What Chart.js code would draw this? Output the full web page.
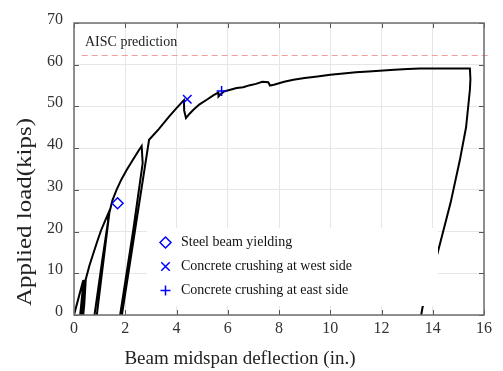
<!DOCTYPE html>
<html>
<head>
<meta charset="utf-8">
<script src="https://cdn.jsdelivr.net/npm/chart.js@4/dist/chart.umd.min.js"></script>
<style>
  html, body { margin: 0; padding: 0; background: #fff; }
  #wrap { width: 503px; height: 371px; }
</style>
</head>
<body>
<div id="wrap"><canvas id="loadChart" width="503" height="371"></canvas></div>
<script>
// load-deflection record (in., kips)
var deflection = [
    0, 0.36, 0.33, 0.24, 0.30, 0.40, 0.37, 0.30, 0.35, 0.43, 0.40, 0.36, 0.40, 0.46,
    0.60, 0.75, 0.90, 1.05, 1.20, 1.34,
    1.33, 1.10, 0.80, 0.89, 1.38,
    1.50, 1.66, 1.85, 2.06, 2.30, 2.50, 2.64,
    2.68, 2.31, 1.80, 1.87, 2.40, 2.93,
    3.30, 3.70, 4.00, 4.29, 4.30, 4.37, 4.50, 4.66, 4.90, 5.18, 5.45, 5.63, 5.64, 5.70, 5.85,
    6.10, 6.35, 6.60, 6.87, 7.10, 7.35, 7.58, 7.65, 7.80, 8.20, 8.56, 9.00, 9.50, 10.00,
    10.51, 11.00, 11.50, 12.07, 12.50, 13.03, 13.50, 14.50, 15.45,
    15.47, 15.45, 15.30, 15.06, 14.70, 14.22, 13.85, 13.60, 13.55
];
var load = [
    0, 8.3, 5.5, 0, 3.0, 8.4, 5.5, 0, 3.0, 8.4, 5.0, 0, 2.5, 8.6,
    11.8, 14.7, 17.5, 20.2, 22.4, 24.4,
    22.5, 13.0, 0, 0, 24.5,
    27.5, 30.0, 32.5, 34.8, 37.2, 39.2, 40.5,
    36.4, 20.3, 0, 0, 21.0, 42.0,
    44.5, 47.5, 49.6, 51.5, 49.0, 47.2, 48.2, 49.2, 50.5, 51.6, 52.7, 53.3, 52.4, 52.8, 53.6,
    54.0, 54.4, 54.6, 55.1, 55.4, 55.9, 55.8, 55.0, 55.2, 55.9, 56.4, 56.8, 57.2, 57.6,
    57.9, 58.2, 58.4, 58.6, 58.8, 59.0, 59.1, 59.1, 59.1,
    56.5, 54.0, 45.0, 37.2, 27.0, 15.6, 7.0, 1.8, 0
];

// events
var yieldPoint = [1.70, 26.8];
var westCrush = [4.42, 51.7];
var eastCrush = [5.76, 53.7];

var aiscLoad = 62.2;
var aiscSpan = [0.3, 16.25];

var xTicks = [0, 2, 4, 6, 8, 10, 12, 14, 16];
var yTicks = [0, 10, 20, 30, 40, 50, 60, 70];

var legendLabels = ['Steel beam yielding', 'Concrete crushing at west side', 'Concrete crushing at east side'];

var serif = '"Liberation Serif", "Times New Roman", serif';
var blue = '#0000ff';

var curve = deflection.map(function (d, i) { return { x: d, y: load[i] }; });

// legend, frame, inward ticks and axis titles
var decorPlugin = {
    id: 'decor',
    afterDatasetsDraw: function (chart) {
        var ctx = chart.ctx;
        ctx.save();
        ctx.fillStyle = '#fff';
        ctx.fillRect(147, 228, 291, 78);
        var styles = ['rectRot', 'crossRot', 'cross'];
        var radii = [5.5, 6, 5];
        ctx.font = '14px ' + serif;
        ctx.textBaseline = 'middle';
        for (var i = 0; i < legendLabels.length; i++) {
            var ly = 242.5 + i * 24;
            ctx.strokeStyle = blue;
            ctx.fillStyle = 'rgba(0,0,0,0)';
            ctx.lineWidth = 1.5;
            Chart.helpers.drawPoint(ctx, { pointStyle: styles[i], radius: radii[i], borderWidth: 1.5 }, 165.5, ly);
            ctx.fillStyle = '#111';
            ctx.fillText(legendLabels[i], 181, ly);
        }
        ctx.restore();
    },
    afterDraw: function (chart) {
        var ctx = chart.ctx;
        var a = chart.chartArea;
        var sx = chart.scales.x, sy = chart.scales.y;
        ctx.save();
        ctx.strokeStyle = '#555';
        ctx.lineWidth = 1;
        ctx.beginPath();
        xTicks.forEach(function (t) {
            var px = Math.round(sx.getPixelForValue(t)) + 0.5;
            ctx.moveTo(px, a.bottom); ctx.lineTo(px, a.bottom - 5);
            ctx.moveTo(px, a.top); ctx.lineTo(px, a.top + 5);
        });
        yTicks.forEach(function (t) {
            var py = Math.round(sy.getPixelForValue(t)) + 0.5;
            ctx.moveTo(a.left, py); ctx.lineTo(a.left + 5, py);
            ctx.moveTo(a.right, py); ctx.lineTo(a.right - 5, py);
        });
        ctx.stroke();
        ctx.strokeStyle = '#6e6e6e';
        ctx.lineWidth = 1.5;
        ctx.strokeRect(a.left, a.top, a.right - a.left, a.bottom - a.top);

        ctx.fillStyle = '#222';
        ctx.font = '14px ' + serif;
        ctx.textBaseline = 'middle';
        ctx.textAlign = 'left';
        ctx.fillText('AISC prediction', 85, 42);

        ctx.font = '19px ' + serif;
        ctx.textAlign = 'center';
        ctx.fillText('Beam midspan deflection (in.)', 240, 359);

        // y title runs a little longer than its glyph size in the reference
        ctx.font = '20px ' + serif;
        var yTitle = 'Applied load(kips)';
        var stretch = 188 / ctx.measureText(yTitle).width;
        ctx.translate(26, 212);
        ctx.rotate(-Math.PI / 2);
        ctx.scale(stretch, 1);
        ctx.fillText(yTitle, 0, 0);
        ctx.restore();
    }
};

document.addEventListener("DOMContentLoaded", function () {
    var ctx = document.getElementById('loadChart').getContext('2d');

    var loadChart = new Chart(ctx, {
        type: 'scatter',
        data: {
            datasets: [{
                label: 'Test',
                data: curve,
                showLine: true,
                borderColor: '#000',
                borderWidth: 2,
                pointRadius: 0,
                tension: 0,
                order: 2
            }, {
                label: 'AISC prediction',
                data: [{ x: aiscSpan[0], y: aiscLoad }, { x: aiscSpan[1], y: aiscLoad }],
                showLine: true,
                borderColor: '#f19a9a',
                borderWidth: 1,
                borderDash: [6, 4],
                pointRadius: 0,
                clip: false,
                order: 3
            }, {
                label: legendLabels[0],
                data: [{ x: yieldPoint[0], y: yieldPoint[1] }],
                pointStyle: 'rectRot',
                pointRadius: 5.5,
                borderColor: blue,
                backgroundColor: 'rgba(0,0,0,0)',
                borderWidth: 1.5,
                order: 1
            }, {
                label: legendLabels[1],
                data: [{ x: westCrush[0], y: westCrush[1] }],
                pointStyle: 'crossRot',
                pointRadius: 6,
                borderColor: blue,
                borderWidth: 1.5,
                order: 1
            }, {
                label: legendLabels[2],
                data: [{ x: eastCrush[0], y: eastCrush[1] }],
                pointStyle: 'cross',
                pointRadius: 5,
                borderColor: blue,
                borderWidth: 1.5,
                order: 1
            }]
        },
        options: {
            responsive: false,
            animation: false,
            layout: {
                padding: { left: 0, right: 19, top: 23, bottom: 0 }
            },
            scales: {
                x: {
                    type: 'linear',
                    min: 0,
                    max: 16,
                    afterFit: function (scale) { scale.height = 56; },
                    afterBuildTicks: function (scale) {
                        scale.ticks = xTicks.map(function (v) { return { value: v }; });
                    },
                    grid: { color: '#e6e6e6', lineWidth: 1, drawTicks: false },
                    border: { display: false },
                    ticks: {
                        padding: 4,
                        color: '#333',
                        font: { family: serif, size: 16 }
                    }
                },
                y: {
                    type: 'linear',
                    min: 0,
                    max: 70,
                    afterFit: function (scale) { scale.width = 74; },
                    afterBuildTicks: function (scale) {
                        scale.ticks = yTicks.map(function (v) { return { value: v }; });
                    },
                    grid: { color: '#e6e6e6', lineWidth: 1, drawTicks: false },
                    border: { display: false },
                    ticks: {
                        padding: 11,
                        color: '#333',
                        font: { family: serif, size: 16, lineHeight: 0.4 },
                        // second empty line lifts each label a few pixels above its tick
                        callback: function (value) { return [String(value), '']; }
                    }
                }
            },
            plugins: {
                legend: { display: false },
                tooltip: { enabled: false }
            }
        },
        plugins: [decorPlugin]
    });
});
</script>
</body>
</html>
